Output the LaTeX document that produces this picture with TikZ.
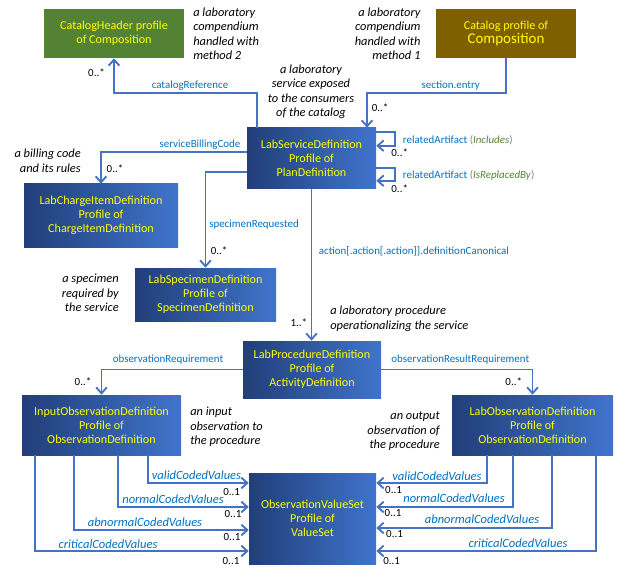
\documentclass[tikz,border=0pt]{standalone}
\usepackage{fontspec}
\setmainfont{Carlito}
\usetikzlibrary{arrows.meta,calc}
\definecolor{navL}{RGB}{33,62,120}
\definecolor{navR}{RGB}{64,116,204}
\definecolor{hdrgreen}{RGB}{84,130,53}
\definecolor{catbrown}{RGB}{127,96,0}
\definecolor{boxyellow}{RGB}{255,255,0}
\definecolor{connblue}{RGB}{68,114,196}
\definecolor{lblblue}{RGB}{0,112,192}
\definecolor{incgreen}{RGB}{84,130,53}
\definecolor{parengray}{RGB}{127,127,127}
\begin{document}
\begin{tikzpicture}[x=0.75pt,y=-0.75pt,
  box/.style={draw=none, text=boxyellow, align=center, inner sep=0pt,
    font=\fontsize{9.1}{10.6}\selectfont},
  bluebox/.style={box, left color=navL, right color=navR},
  conn/.style={draw=connblue, line width=1.4pt,
    -{Straight Barb[length=4.5pt,width=8pt,line width=1.4pt]}},
  lbl/.style={text=lblblue, inner sep=0pt, font=\fontsize{8.2}{9.2}\selectfont},
  ilbl/.style={lbl, font=\fontsize{9.4}{10}\selectfont\itshape},
  mult/.style={inner sep=0pt, font=\fontsize{8.2}{9.2}\selectfont},
  note/.style={inner sep=0pt, font=\fontsize{9.3}{10.9}\selectfont\itshape}]
\useasboundingbox (0,0) rectangle (630,573);

% boxes
\node[box, fill=hdrgreen, minimum width=105pt, minimum height=36.75pt] (hdr) at (114,33.5) {CatalogHeader profile\\of Composition};
\node[box, fill=catbrown, minimum width=105pt, minimum height=36.75pt] (cat) at (506,33.5) {Catalog profile of\\{\fontsize{11.2}{12}\selectfont Composition}};
\node[bluebox, minimum width=96.75pt, minimum height=45.75pt] (svc) at (311.5,158.5) {LabServiceDefinition\\Profile of\\PlanDefinition};
\node[bluebox, minimum width=115.5pt, minimum height=47.25pt] (chg) at (101,215.5) {LabChargeItemDefinition\\Profile of\\ChargeItemDefinition};
\node[bluebox, minimum width=105.75pt, minimum height=39.75pt] (spec) at (205.5,294.5) {LabSpecimenDefinition\\Profile of\\SpecimenDefinition};
\node[bluebox, minimum width=103.5pt, minimum height=42.75pt] (proc) at (312,369.5) {LabProcedureDefinition\\Profile of\\ActivityDefinition};
\node[bluebox, minimum width=119.25pt, minimum height=45pt] (inp) at (101.5,425) {InputObservationDefinition\\Profile of\\ObservationDefinition};
\node[bluebox, minimum width=120.75pt, minimum height=45pt] (obs) at (532.5,425) {LabObservationDefinition\\Profile of\\ObservationDefinition};
\node[bluebox, minimum width=95.25pt, minimum height=68.25pt] (vs) at (312.5,518.5) {ObservationValueSet\\Profile of\\ValueSet};

% connectors
\draw[conn] ($(svc.north)+(-54.5,0)$) -- ++(0,-35) -| (hdr.south);
\draw[conn] (cat.south) -- ++(0,34.5) -| ($(svc.north)+(55.5,0)$);
\draw[conn] ($(svc.west)+(0,-6.5)$) -| (chg.north);
\draw[conn] ($(svc.west)+(0,13.5)$) -| (spec.north);
\draw[conn] (svc.south) -- (svc.south |- proc.north);
\draw[conn] ($(svc.north east)+(0,4)$) -- ++(19,0) -- ++(0,14) -- ++(-19,0);
\draw[conn] ($(svc.north east)+(0,40)$) -- ++(19,0) -- ++(0,13) -- ++(-19,0);
\draw[conn] (proc.west) -| (inp.north);
\draw[conn] (proc.east) -| (obs.north);
\draw[conn] ($(inp.south west)+(126,0)$) |- ($(vs.west)+(0,-35.5)$);
\draw[conn] ($(inp.south west)+(96,0)$) |- ($(vs.west)+(0,-11.5)$);
\draw[conn] ($(inp.south west)+(52,0)$) |- ($(vs.west)+(0,11.5)$);
\draw[conn] ($(inp.south west)+(13,0)$) |- ($(vs.west)+(0,32.5)$);
\draw[conn] ($(obs.south west)+(35,0)$) |- ($(vs.east)+(0,-35.5)$);
\draw[conn] ($(obs.south west)+(61,0)$) |- ($(vs.east)+(0,-11.5)$);
\draw[conn] ($(obs.south west)+(100,0)$) |- ($(vs.east)+(0,9.5)$);
\draw[conn] ($(obs.south west)+(144,0)$) |- ($(vs.east)+(0,32.5)$);

% connector labels
\node[lbl] (l1) at (190,86) {catalogReference};
\node[mult] (m1) at (96.5,73) {0..*};
\node[lbl] (l2) at (450.8,86) {section.entry};
\node[mult] (m2) at (380,108) {0..*};
\node[lbl] (l3) at (200,144.7) {serviceBillingCode};
\node[mult] (m3) at (115,169) {0..*};
\node[lbl] (l4) at (254,224.7) {specimenRequested};
\node[mult] (m4) at (219,250.7) {0..*};
\node[lbl, anchor=west] (l5) at (318.7,251.7) {action[.action[.action]].definitionCanonical};
\node[mult] (m5) at (298.8,323) {1..*};
\node[lbl, anchor=west] (l6) at (402.7,140.7) {relatedArtifact \textcolor{parengray}{(}\textcolor{incgreen}{\textit{Includes}}\textcolor{parengray}{)}};
\node[mult] (m6) at (399.7,152.3) {0..*};
\node[lbl, anchor=west] (l7) at (402.7,175.7) {relatedArtifact \textcolor{parengray}{(}\textcolor{incgreen}{\textit{IsReplacedBy}}\textcolor{parengray}{)}};
\node[mult] (m7) at (399.7,189) {0..*};
\node[lbl] (l8) at (168,360) {observationRequirement};
\node[mult] (m8) at (83,382) {0..*};
\node[lbl] (l9) at (460.3,360) {observationResultRequirement};
\node[mult] (m9) at (513.7,382) {0..*};

\node[ilbl] (a1) at (196.5,475.3) {validCodedValues};
\node[mult] (b1) at (231.7,491.7) {0..1};
\node[ilbl] (a2) at (173,499) {normalCodedValues};
\node[mult] (b2) at (233,514.3) {0..1};
\node[ilbl] (a3) at (145,522.3) {abnormalCodedValues};
\node[mult] (b3) at (232,536.7) {0..1};
\node[ilbl] (a4) at (108,543.7) {criticalCodedValues};
\node[mult] (b4) at (231,561) {0..1};

\node[ilbl] (c1) at (437,476) {validCodedValues};
\node[mult] (d1) at (393.5,490) {0..1};
\node[ilbl] (c2) at (454,498.3) {normalCodedValues};
\node[mult] (d2) at (393,513) {0..1};
\node[ilbl] (c3) at (482,519.3) {abnormalCodedValues};
\node[mult] (d3) at (394.5,534.3) {0..1};
\node[ilbl] (c4) at (518,543) {criticalCodedValues};
\node[mult] (d4) at (391.7,561) {0..1};

% annotations
\node[note, anchor=north west, align=left] (n1) at (193,7.5) {a laboratory\\compendium\\handled with\\method 2};
\node[note, anchor=north east, align=right] (n2) at (420.7,7.5) {a laboratory\\compendium\\handled with\\method 1};
\node[note, anchor=north, align=center] (n3) at (311,64.5) {a laboratory\\service exposed\\to the consumers\\of the catalog};
\node[note, anchor=north east, align=right] (n4) at (81,149) {a billing code\\and its rules};
\node[note, anchor=north east, align=right] (n5) at (119,274) {a specimen\\required by\\the service};
\node[note, anchor=north west, align=left] (n6) at (330,306) {a laboratory procedure\\operationalizing the service};
\node[note, anchor=north west, align=left] (n7) at (190,407) {an input\\observation to\\the procedure};
\node[note, anchor=north east, align=right] (n8) at (440,411.5) {an output\\observation of\\the procedure};
\end{tikzpicture}
\end{document}
